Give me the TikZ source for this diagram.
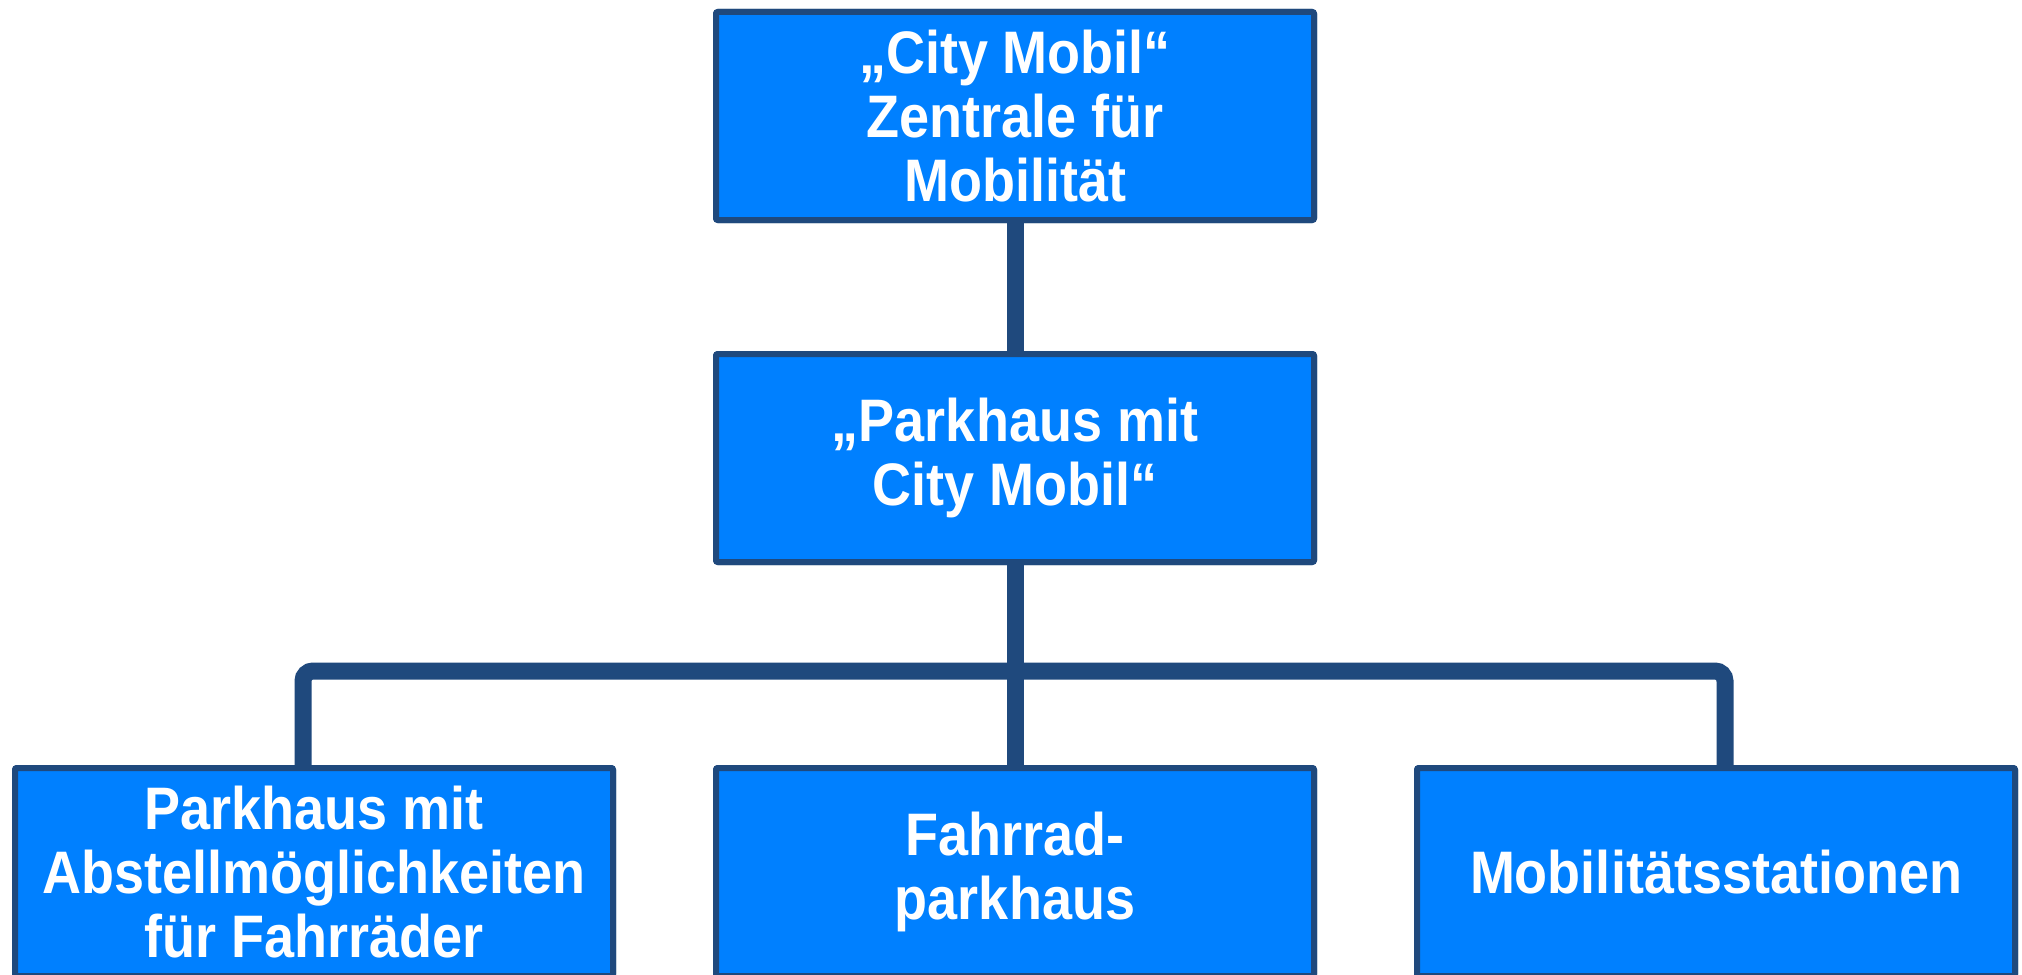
\documentclass[tikz,border=0pt]{standalone}
\usepackage{fontspec}
\setmainfont[FakeStretch=0.9]{Liberation Sans}
\usetikzlibrary{calc}

\definecolor{boxblue}{RGB}{0,128,255}
\definecolor{linkblue}{RGB}{31,73,125}

\tikzset{
  orgbox/.style={draw=linkblue, line width=3pt, fill=boxblue, rounded corners=1pt,
    minimum width=299pt, minimum height=104pt, inner sep=0pt,
    align=center, text=white, font=\fontsize{30}{32}\selectfont\bfseries},
  link/.style={draw=linkblue, line width=8.5pt, rounded corners=5pt}
}

\begin{document}
\begin{tikzpicture}[x=0.5pt, y=-0.5pt]
\clip (0,0) rectangle (2022,974);
\fill[white] (0,0) rectangle (2022,974);
\coordinate (busL) at (303,671);
\coordinate (busR) at (1725,671);

\node[orgbox] (zentrale) at (1015,116) {„City Mobil“\\Zentrale für\\Mobilität};
\node[orgbox] (parkhaus) at (1015,458) {„Parkhaus mit\\City Mobil“};
\node[orgbox] (abstell) at (314,872) {Parkhaus mit\\Abstellmöglichkeiten\\für Fahrräder};
\node[orgbox] (fahrrad) at (1015,872) {Fahrrad-\\parkhaus};
\node[orgbox] (stationen) at (1716,872) {Mobilitätsstationen};

% connectors
\draw[link] (zentrale.south) -- (parkhaus.north);
\draw[link] (parkhaus.south) -- (fahrrad.north);
\draw[link] (abstell.north -| busL) -- (busL) -- (busR) -- (stationen.north -| busR);

% boxes again over the line ends
\foreach \n/\t in {zentrale/{„City Mobil“\\Zentrale für\\Mobilität},
                   parkhaus/{„Parkhaus mit\\City Mobil“},
                   abstell/{Parkhaus mit\\Abstellmöglichkeiten\\für Fahrräder},
                   fahrrad/{Fahrrad-\\parkhaus},
                   stationen/{Mobilitätsstationen}}
  \node[orgbox] at (\n) {\t};
\end{tikzpicture}
\end{document}
